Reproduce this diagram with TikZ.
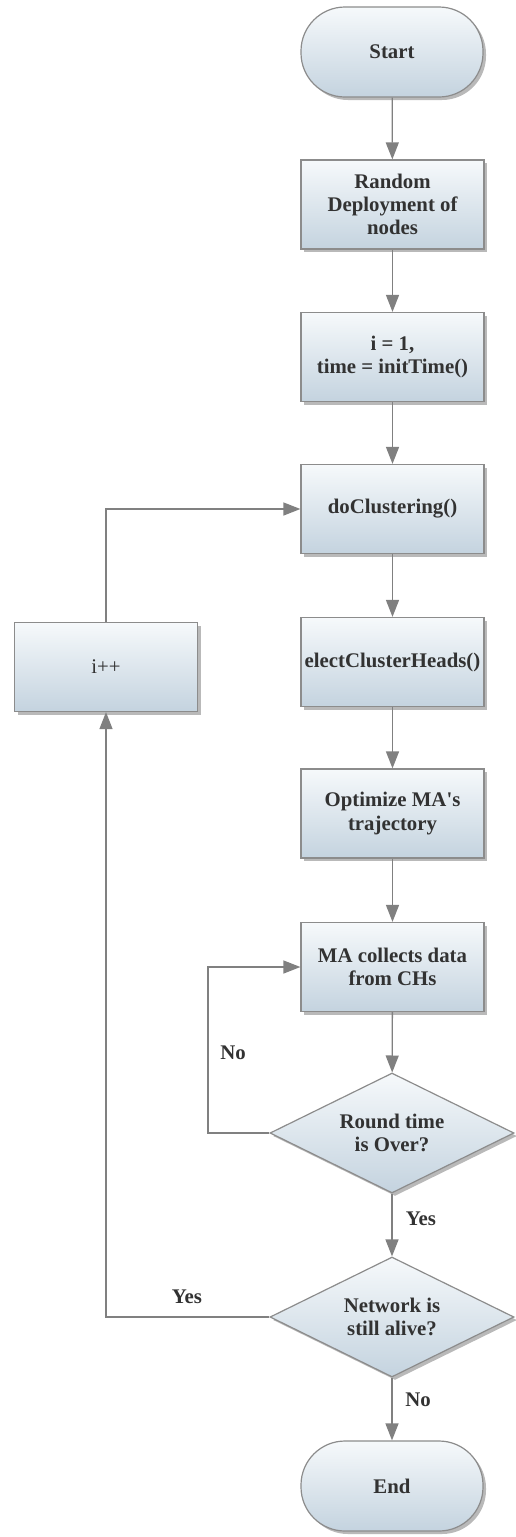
\documentclass[tikz,border=0pt]{standalone}
\usepackage{fontspec}
\setmainfont{Liberation Serif}
\newfontfamily\rawserif[Ligatures=ResetAll]{Liberation Serif}
\usetikzlibrary{shapes.geometric,shadows,arrows.meta}
\definecolor{filltop}{RGB}{246,249,251}
\definecolor{fillbot}{RGB}{196,211,223}
\definecolor{edgec}{RGB}{140,140,140}
\definecolor{linec}{RGB}{128,128,128}
\definecolor{txtc}{RGB}{50,50,50}
\tikzset{
  base/.style={draw=edgec, line width=1.2pt, top color=filltop, bottom color=fillbot,
    drop shadow={shadow xshift=3pt, shadow yshift=-3pt, fill=black!55, opacity=0.5},
    text=txtc, font=\fontsize{20.8}{23.3}\selectfont\bfseries, align=center, inner sep=0pt},
  box/.style={base, rectangle, minimum width=183pt, minimum height=89pt},
  term/.style={base, rectangle, rounded corners=44pt, minimum width=182pt, minimum height=90pt},
  decide/.style={base, diamond, aspect=2, minimum width=244pt, minimum height=120pt},
  conn/.style={draw=linec, line width=1.3pt, -{Triangle[length=17pt,width=13pt]}},
  lbl/.style={text=txtc, font=\fontsize{20.8}{23.3}\selectfont\bfseries}
}
\begin{document}
\begin{tikzpicture}[x=1pt,y=-1pt]
\useasboundingbox (0,0) rectangle (516,1537);
\node[term] (start) at (392,52) {Start};
\node[box] (deploy) at (392.5,204.5) {Random\\Deployment of\\nodes};
\node[box] (init) at (392.5,357) {i = 1,\\time = initTime()};
\node[box] (clust) at (392.5,509) {doClustering()};
\node[box] (elect) at (392.5,662) {electClusterHeads()};
\node[box] (opt) at (392.5,813.5) {Optimize MA{\rawserif\bfseries '}s\\trajectory};
\node[box] (collect) at (392.5,967) {MA collects data\\from CHs};
\node[decide] (round) at (392,1133) {Round time\\is Over?};
\node[decide] (alive) at (392,1317) {Network is\\still alive?};
\node[term] (end) at (392,1486) {End};
\node[box, font=\fontsize{20.8}{23.3}\selectfont] (inc) at (106,667) {i++};
\coordinate (c1) at (106,1317);
\coordinate (c2) at (106,509);
\coordinate (c3) at (208,1133);
\coordinate (c4) at (208,967);
\draw[conn] (start) -- (deploy);
\draw[conn] (deploy) -- (init);
\draw[conn] (init) -- (clust);
\draw[conn] (clust) -- (elect);
\draw[conn] (elect) -- (opt);
\draw[conn] (opt) -- (collect);
\draw[conn] (collect) -- (round);
\draw[conn] (round) -- (alive);
\draw[conn] (alive) -- (end);
\draw[conn] (alive.west) -- (c1) -- (inc.south);
\draw[conn] (inc.north) -- (c2) -- (clust.west);
\draw[conn] (round.west) -- (c3) -- (c4) -- (collect.west);
\node[lbl] (lno1) at (233,1053) {No};
\node[lbl] (lyes1) at (421,1219) {Yes};
\node[lbl] (lyes2) at (187,1297) {Yes};
\node[lbl] (lno2) at (418,1400) {No};
\end{tikzpicture}
\end{document}
